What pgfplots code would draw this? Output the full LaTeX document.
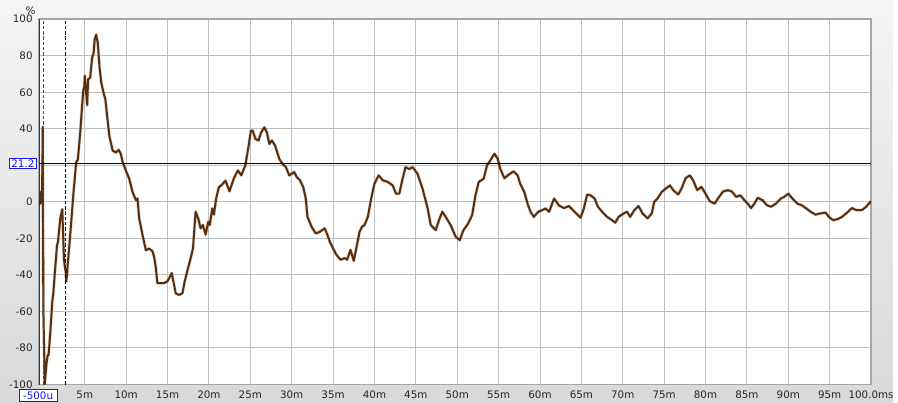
\documentclass[border=0pt]{standalone}
\usepackage{pgfplots}
\pgfplotsset{compat=1.18}
\usepackage{fontspec}
\setmainfont{DejaVu Sans}
\definecolor{trace}{RGB}{88,46,12}
\definecolor{gridc}{RGB}{192,192,192}
\definecolor{lblue}{RGB}{20,20,235}
\pgfplotstableread{
x y
-0.5 -1
-0.35 -1
-0.29 5.5
-0.17 4
-0.1 30
-0.08 41
-0.06 20
-0.04 -45
-0.02 -30
0.0 -60
0.16 -100
0.36 -89
0.5 -84
0.62 -84
0.84 -71
1.08 -54
1.2 -50
1.36 -40
1.64 -24
1.76 -22
2.04 -9
2.28 -4
2.4 -20
2.48 -31
2.6 -36
2.7 -38
2.76 -43.5
2.85 -40
2.96 -33
3.24 -18
3.64 5.4
3.96 21.8
4.16 23
4.45 38
4.76 58
4.85 62
4.92 62
5.0 69
5.1 63
5.2 58
5.29 53
5.4 67
5.65 68
5.89 79
6.05 81
6.2 89
6.37 91.5
6.57 87
6.77 74
7.0 65
7.25 60
7.49 56
7.75 45
7.97 36
8.37 28
8.77 27
9.1 28.5
9.37 26
9.57 21.8
9.97 17
10.37 12.7
10.77 5.4
11.17 1
11.37 1.8
11.57 -9
11.97 -18
12.38 -26.5
12.78 -25.6
13.17 -27
13.37 -30
13.58 -36
13.77 -44.5
14.17 -44.5
14.57 -44.5
14.97 -43.5
15.17 -42
15.5 -39
15.77 -45
15.98 -50
16.38 -51
16.8 -50
17.07 -43.5
17.38 -38
17.78 -31
18.07 -25.5
18.39 -5.4
18.7 -9
18.99 -14.5
19.27 -12.7
19.6 -18
19.9 -11
20.1 -12.7
20.4 -3.6
20.6 -7
20.87 1.8
21.2 8
21.6 9.5
22.0 11.6
22.48 5.8
23.0 12.7
23.5 17.2
23.9 14.5
24.4 20
24.8 30.8
25.07 39
25.3 39
25.6 34.5
26.0 33.6
26.3 38
26.7 40.8
27.0 38
27.3 31.7
27.6 33.6
28.0 30.8
28.5 23.5
28.88 20.8
29.3 19
29.7 14.5
30.0 15.4
30.3 16.3
30.6 13.6
31.0 11.8
31.4 8
31.7 1.8
31.9 -8.2
32.4 -13.6
32.9 -17.3
33.4 -16.4
34.0 -14.5
34.3 -18
34.6 -21.8
35.0 -25.5
35.4 -29
35.9 -31.7
36.4 -30.8
36.7 -31.7
37.1 -26.3
37.5 -32.3
37.8 -25.5
38.2 -16.4
38.5 -13.6
38.8 -12.7
39.2 -8.2
39.6 1.8
40.0 10
40.5 14.5
41.0 11.8
41.6 10.9
42.2 9
42.6 4.5
43.0 4.5
43.4 12.7
43.75 19
44.2 18
44.6 19
45.2 15.4
45.8 7.3
46.4 -3
46.8 -12.7
47.4 -15.5
47.8 -10
48.2 -5.4
48.6 -8.2
49.2 -12.7
49.8 -19
50.3 -21
50.75 -15.5
51.3 -12
51.8 -7.3
52.2 3.6
52.6 10.9
53.2 12.7
53.6 20
54.0 22.7
54.5 26.3
54.9 23.5
55.2 18
55.7 12.9
56.1 14.5
56.8 16.7
57.3 14.5
57.6 10
58.1 5.4
58.5 -1
58.85 -5.4
59.25 -8.2
59.8 -5.4
60.3 -4.5
60.65 -3.6
61.1 -5.4
61.7 1.8
62.3 -2
62.9 -3.4
63.5 -2.3
64.1 -5.1
64.9 -8.7
65.3 -3.6
65.7 4
66.1 3.6
66.6 1.8
67.0 -2.7
67.5 -5.4
68.1 -8.2
68.7 -10
69.1 -11.4
69.5 -8.2
70.1 -6.4
70.5 -5.4
70.9 -8.2
71.4 -4.5
71.9 -2.3
72.4 -6.4
73.0 -9
73.5 -6.4
73.8 0
74.2 1.8
74.7 5.4
75.3 7.6
75.7 9
76.1 6.4
76.7 4
77.1 7.3
77.6 13
78.1 14.5
78.5 11.8
79.0 6.4
79.5 8.2
80.0 4.5
80.5 0.4
81.1 -1
81.5 1.8
82.1 5.6
82.7 6.4
83.2 5.6
83.7 2.7
84.2 3.6
84.7 0.9
85.1 -1
85.5 -3.4
85.9 -1
86.3 2.2
86.9 0.9
87.4 -1.8
87.9 -2.7
88.5 -1
89.1 1.8
89.5 2.7
90.0 4.5
90.5 1.8
91.1 -1
91.6 -1.8
92.1 -3.4
92.7 -5.4
93.3 -7
93.8 -6.4
94.5 -5.9
94.9 -8.2
95.4 -10
96.0 -9.4
96.5 -8.2
97.1 -5.9
97.7 -3.4
98.2 -4.5
98.9 -4.5
99.4 -2.7
100 0.4
}\datatable
\begin{document}
\begin{tikzpicture}
\shade[top color=black!4, bottom color=black!15] (0,0) rectangle (673.5pt,303.75pt);
\begin{axis}[
  at={(29.625pt,13.725pt)}, anchor=south west,
  scale only axis, width=627.4pt, height=275.55pt,
  xmin=-0.5, xmax=100, ymin=-100, ymax=100,
  axis background/.style={fill=white},
  axis line style={draw=black!35, line width=1.4pt},
  grid=major, major grid style={draw=gridc, line width=0.75pt},
  major tick length=0pt,
  xtick={-0.5,5,10,15,20,25,30,35,40,45,50,55,60,65,70,75,80,85,90,95,100},
  xticklabels={{},5m,10m,15m,20m,25m,30m,35m,40m,45m,50m,55m,60m,65m,70m,75m,80m,85m,90m,95m,100.0ms},
  ytick={-100,-80,-60,-40,-20,0,20,40,60,80,100},
  yticklabels={-100,-80,-60,-40,-20,0,{},40,60,80,100},
  tick label style={font=\fontsize{7.8}{9}\selectfont, text=black!85},
  xticklabel style={yshift=-1pt},
  yticklabel style={xshift=-1.5pt},
  clip=true,
]
\addplot[draw=trace!55, line width=2.4pt, line join=round, opacity=0.35] table {\datatable};
\addplot[draw=trace, line width=1.5pt, line join=round] table {\datatable};
\draw[red, line width=0.6pt, dash pattern=on 2.5pt off 1.5pt] (axis cs:0,-100) -- (axis cs:0,100);
\draw[black, line width=0.6pt, dash pattern=on 2.5pt off 1.5pt] (axis cs:2.6,-100) -- (axis cs:2.6,100);
\draw[black, line width=0.8pt] (axis cs:-0.5,21.2) -- (axis cs:100,21.2);
\draw[black, line width=0.9pt] (axis cs:-0.5,-100) -- (axis cs:-0.5,100);
\end{axis}
\node[draw=lblue, fill=white, text=lblue, inner sep=0.8pt, line width=0.6pt, font=\fontsize{7.8}{9}\selectfont, minimum width=28.5pt, minimum height=9pt] at (28.7pt,5.25pt) {-500u};
\node[draw=lblue, fill=white, text=lblue, inner sep=0.8pt, line width=0.6pt, font=\fontsize{7.8}{9}\selectfont, minimum width=21pt, minimum height=7.5pt] at (17.3pt,180.25pt) {21.2};
\node[font=\fontsize{7.8}{9}\selectfont, text=black!85] at (23pt,296pt) {\%};
\end{tikzpicture}
\end{document}
